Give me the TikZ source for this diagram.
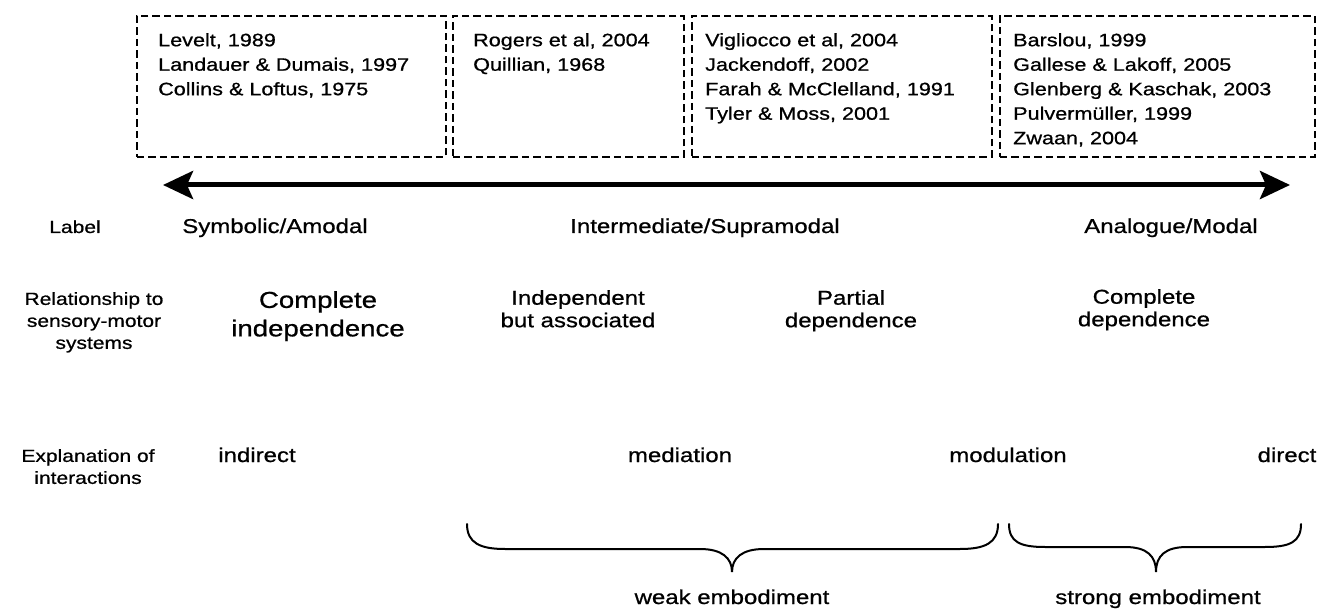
\documentclass[tikz,border=0pt]{standalone}
\usepackage{fontspec}
\setmainfont{Liberation Sans}[FakeStretch=1.2, FakeBold=0.8]
\usepackage{tikz}
\usetikzlibrary{arrows.meta}

\tikzset{
  refbox/.style={draw, line width=1.8pt, dash pattern=on 7.5pt off 4pt, minimum height=141pt, anchor=north west, inner sep=0pt},
  reflist/.style={font=\fontsize{18}{24.5}\selectfont, align=left, anchor=north west, inner sep=0pt},
  rowhead/.style={font=\fontsize{17.5}{22}\selectfont, align=center, inner sep=0pt},
  cell/.style={font=\fontsize{20}{22.5}\selectfont, align=center, inner sep=0pt},
  spectrum/.style={line width=5pt, {Stealth[length=30pt,width=28pt,inset=6pt]}-{Stealth[length=30pt,width=28pt,inset=6pt]}},
  brace line/.style={line width=2pt, line cap=round},
}

\begin{document}
\begin{tikzpicture}[x=1pt, y=-1pt]

  \useasboundingbox (0,0) rectangle (1319,609);

  \node[refbox, minimum width=309pt] (amodal box) at (136,15) {};
  \node[refbox, minimum width=231pt] (supra box) at (452,15) {};
  \node[refbox, minimum width=300pt] (partial box) at (691,15) {};
  \node[refbox, minimum width=315pt] (modal box) at (999,15) {};

  \node[reflist] (amodal refs) at ([shift={(22,18)}]amodal box.north west) {Levelt, 1989\\Landauer \& Dumais, 1997\\Collins \& Loftus, 1975};
  \node[reflist] (supra refs) at ([shift={(21,18)}]supra box.north west) {Rogers et al, 2004\\Quillian, 1968};
  \node[reflist] (partial refs) at ([shift={(14,18)}]partial box.north west) {Vigliocco et al, 2004\\Jackendoff, 2002\\Farah \& McClelland, 1991\\Tyler \& Moss, 2001};
  \node[reflist] (modal refs) at ([shift={(14,18)}]modal box.north west) {Barslou, 1999\\Gallese \& Lakoff, 2005\\Glenberg \& Kaschak, 2003\\Pulvermüller, 1999\\Zwaan, 2004};

  \coordinate (amodal end) at (163,185);
  \coordinate (modal end) at (1290,185);
  \draw[spectrum] (amodal end) -- (modal end);

  \node[rowhead, anchor=base] (label head) at (75,233) {Label};
  \node[cell, anchor=base] (amodal) at (275,233) {Symbolic/Amodal};
  \node[cell, anchor=base] (supramodal) at (705,233) {Intermediate/Supramodal};
  \node[cell, anchor=base] (modal) at (1171,233) {Analogue/Modal};

  \node[rowhead, anchor=north] (relation head) at (94,292) {Relationship to\\sensory-motor\\systems};
  \node[cell, anchor=north, font=\fontsize{23}{28.5}\selectfont] (independence) at (318,291) {Complete\\independence};
  \node[cell, anchor=north] (associated) at (578,290) {Independent\\but associated};
  \node[cell, anchor=north] (partial) at (851,290) {Partial\\dependence};
  \node[cell, anchor=north] (dependence) at (1144,289) {Complete\\dependence};

  \node[rowhead, anchor=north] (interaction head) at (88,449) {Explanation of\\interactions};
  \node[cell, anchor=base] (indirect) at (257,462) {indirect};
  \node[cell, anchor=base] (mediation) at (680,462) {mediation};
  \node[cell, anchor=base] (modulation) at (1008,462) {modulation};
  \node[cell, anchor=base] (direct) at (1287,462) {direct};

  \draw[brace line] (467,524) .. controls (467,543) and (480,549) .. (505,549) -- (700,549) .. controls (722,549) and (732,558) .. (732,572) .. controls (732,558) and (742,549) .. (764,549) -- (960,549) .. controls (985,549) and (998,543) .. (998,524);
  \draw[brace line] (1009,524) .. controls (1009,542) and (1020,547) .. (1045,547) -- (1125,547) .. controls (1147,547) and (1156,556) .. (1156,572) .. controls (1156,556) and (1165,547) .. (1187,547) -- (1265,547) .. controls (1290,547) and (1301,542) .. (1301,524);

  \node[cell, anchor=base] (weak) at (732,604) {weak embodiment};
  \node[cell, anchor=base] (strong) at (1158,604) {strong embodiment};

\end{tikzpicture}
\end{document}
